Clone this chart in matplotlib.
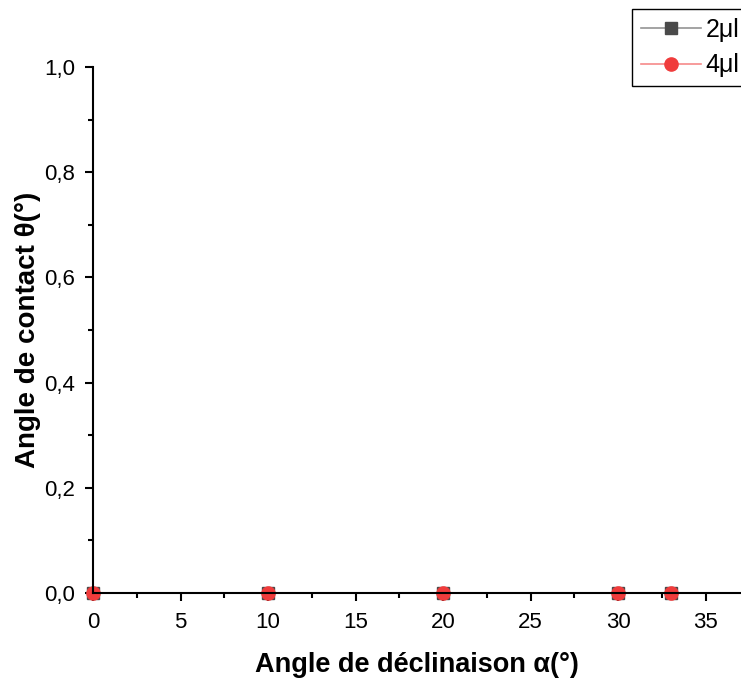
import numpy as np
import matplotlib
matplotlib.use('Agg')
import matplotlib.pyplot as plt
from matplotlib.ticker import MultipleLocator, FuncFormatter

plt.rcParams['font.family'] = ['Liberation Sans', 'DejaVu Sans']

# data
declinaison = [0, 10, 20, 30, 33]
theta_2ul = [0, 0, 0, 0, 0]
theta_4ul = [0, 0, 0, 0, 0]
labels = ['2\u03bcl', '4\u03bcl']

fig = plt.figure(figsize=(7.41, 6.79), dpi=100)
ax = fig.add_axes([93 / 741, 86 / 679, 648 / 741, 526 / 679])

ax.plot(declinaison, theta_2ul, color=(0.3, 0.3, 0.3, 0.6), lw=1.2,
        marker='s', ms=8.5, mfc='#4a4a4a', mec='#4a4a4a', label=labels[0], clip_on=False)
ax.plot(declinaison, theta_4ul, color=(0.94, 0.24, 0.24, 0.6), lw=1.2,
        marker='o', ms=9.5, mfc='#f03c3c', mec='#f03c3c', label=labels[1], clip_on=False)

ax.set_xlim(0, 648 / 17.5)
ax.set_ylim(0, 1.0)
ax.xaxis.set_major_locator(MultipleLocator(5))
ax.xaxis.set_minor_locator(MultipleLocator(2.5))
ax.yaxis.set_major_locator(MultipleLocator(0.2))
ax.yaxis.set_minor_locator(MultipleLocator(0.1))
ax.yaxis.set_major_formatter(FuncFormatter(lambda v, p: f"{v:.1f}".replace('.', ',')))

for s in ['top', 'right']:
    ax.spines[s].set_visible(False)
for s in ['left', 'bottom']:
    ax.spines[s].set_linewidth(1.5)

ax.tick_params(which='major', direction='out', length=6, width=1.5, labelsize=16)
ax.tick_params(axis='x', which='major', pad=8)
ax.tick_params(axis='y', which='major', pad=7)
ax.tick_params(which='minor', direction='out', length=3.5, width=1.5)

ax.set_xlabel('Angle de déclinaison \u03b1(°)', fontsize=19.5, fontweight='bold', labelpad=13)
ax.set_ylabel('Angle de contact \u03b8(°)', fontsize=20, fontweight='bold', labelpad=2)

leg = fig.legend(loc='upper left', bbox_to_anchor=(632 / 741, 1 - 9 / 679),
                 bbox_transform=fig.transFigure, borderaxespad=0, fontsize=18,
                 fancybox=False, edgecolor='black', framealpha=1,
                 handlelength=2.4, handletextpad=0.2, borderpad=0.35, labelspacing=0.46)
leg.get_frame().set_linewidth(1.0)

fig.savefig('out.png', dpi=100)
